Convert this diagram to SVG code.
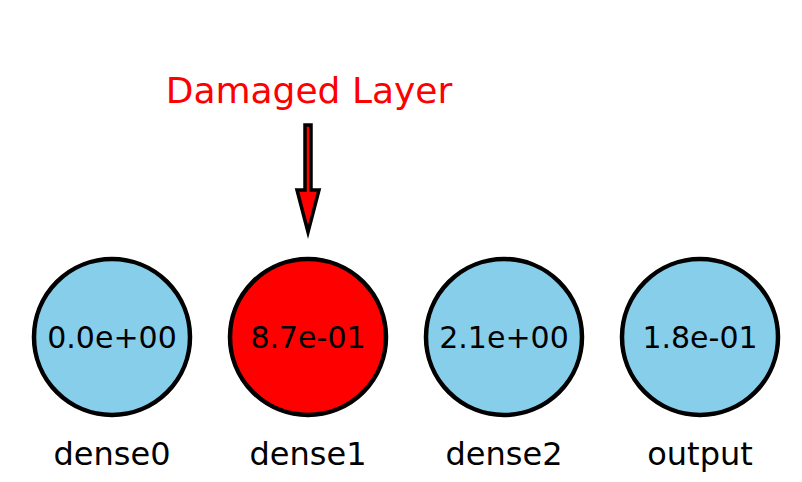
<svg xmlns="http://www.w3.org/2000/svg" width="802" height="482" viewBox="0 0 802 482">
<style>
.node{stroke:#000;stroke-width:4.5}
.val{font-family:"DejaVu Sans",sans-serif;font-size:30px;fill:#000;text-anchor:middle}
.lbl{font-family:"DejaVu Sans",sans-serif;font-size:32px;fill:#000;text-anchor:middle}
</style>
<rect width="802" height="482" fill="#fff"/>
<g id="dense0"><circle class="node" cx="112" cy="337" r="78" fill="#87ceeb"/><text class="val" x="112" y="348">0.0e+00</text><text class="lbl" x="112" y="465">dense0</text></g>
<g id="dense1"><circle class="node" cx="308" cy="337" r="78" fill="#ff0000"/><text class="val" x="308" y="348">8.7e-01</text><text class="lbl" x="308" y="465">dense1</text></g>
<g id="dense2"><circle class="node" cx="504" cy="337" r="78" fill="#87ceeb"/><text class="val" x="504" y="348">2.1e+00</text><text class="lbl" x="504" y="465">dense2</text></g>
<g id="output"><circle class="node" cx="700" cy="337" r="78" fill="#87ceeb"/><text class="val" x="700" y="348">1.8e-01</text><text class="lbl" x="700" y="465">output</text></g>
<g id="connectors">
<polygon points="305,125 311,125 311,190 319,190 308,232 297,190 305,190" fill="#ff0000" stroke="#000" stroke-width="3.5" stroke-linejoin="miter"/>
</g>
<text x="309" y="103" font-family="DejaVu Sans,sans-serif" font-size="36" fill="#ff0000" text-anchor="middle">Damaged Layer</text>
</svg>
